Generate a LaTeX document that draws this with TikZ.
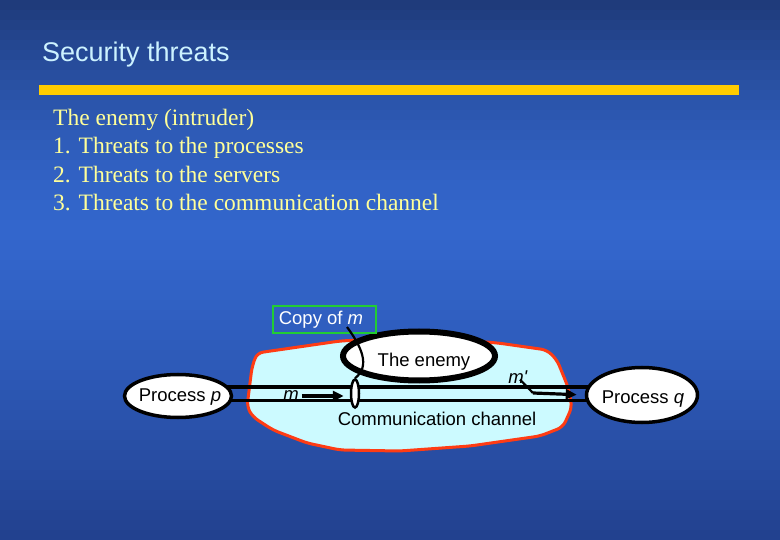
\documentclass[tikz,border=0pt]{standalone}
\usepackage{fontspec}
\setmainfont{Liberation Serif}
\newfontfamily\arialf{Liberation Sans}
\usetikzlibrary{shapes.geometric,arrows.meta}
\pgfdeclarelayer{bg}
\pgfdeclarelayer{mid}
\pgfsetlayers{bg,mid,main}
\definecolor{bgtop}{HTML}{1F3B7B}
\definecolor{bgmid}{HTML}{3366CC}
\definecolor{bgbot}{HTML}{213F8C}
\definecolor{titlec}{HTML}{CCF2FF}
\definecolor{bodyc}{HTML}{FFFF99}
\definecolor{barc}{HTML}{FFCC00}
\definecolor{cloudfill}{HTML}{CCFAFF}
\definecolor{cloudedge}{HTML}{FF3C14}
\definecolor{boxgreen}{HTML}{22CC33}
\tikzset{
  sans/.style={font=\arialf\fontsize{18.5}{20}\selectfont, inner sep=0pt},
  bodytext/.style={font=\fontsize{23.5}{26}\selectfont, text=bodyc, anchor=base west, inner sep=0pt},
  procshape/.style={ellipse, draw=black, fill=white, line width=3.5pt, inner sep=0pt},
  enemyshape/.style={ellipse, draw=black, fill=white, line width=6pt, inner sep=0pt, minimum width=152pt, minimum height=49pt},
  tapshape/.style={ellipse, draw=black, fill=white, line width=2.5pt, inner sep=0pt, minimum width=8pt, minimum height=28pt},
  copybox/.style={draw=boxgreen, line width=2.5pt, minimum width=103pt, minimum height=27pt, inner sep=0pt},
  chan/.style={draw=black, line width=3.5pt},
  arr/.style={draw=black, line width=3.2pt, -{Triangle[length=11pt,width=10pt]}},
  wire/.style={draw=black, line width=2.2pt},
}
\begin{document}
\begin{tikzpicture}[x=1pt,y=-1pt]
\useasboundingbox (0,0) rectangle (780,540);
\begin{pgfonlayer}{bg}
% vertical gradient: dark top, bright around y=230, darker bottom
\foreach \i in {0,...,53}{
  \pgfmathsetmacro{\yy}{\i*10}
  \ifnum\i<23
    \pgfmathtruncatemacro{\pa}{100*(1-\i/23)^1.6}
    \fill[bgtop!\pa!bgmid] (0,\yy) rectangle (780,\yy+10.5);
  \else
    \pgfmathtruncatemacro{\pb}{100*(max(0.001,(\i-23)/31))^1.3}
    \fill[bgbot!\pb!bgmid] (0,\yy) rectangle (780,\yy+10.5);
  \fi
}
\fill[cloudfill, draw=cloudedge, line width=3pt, rounded corners=6pt]
  (257,353) -- (340,341) -- (420,337) -- (498,343) -- (547,350) -- (557,360)
  -- (568,387) -- (572,407) -- (563,427) -- (540,436) -- (470,446) -- (400,451)
  -- (340,450) -- (307,443) -- (273,430) -- (253,417) -- (247,407) -- (252,367) -- cycle;
\end{pgfonlayer}

% title, bar, body text
\node[font=\arialf\fontsize{27}{30}\selectfont, text=titlec, anchor=base west, inner sep=0pt] (title) at (42,62) {Security threats};
\fill[barc] (39,85) rectangle (739,95);
\node[bodytext] (l0) at (53,126) {The enemy (intruder)};
\node[bodytext] (l1) at (53,154) {1. Threats to the processes};
\node[bodytext] (l2) at (53,182.5) {2. Threats to the servers};
\node[bodytext] (l3) at (53,210.5) {3. Threats to the communication channel};

% diagram nodes
\node[procshape, minimum width=107pt, minimum height=43pt] (p) at (178,396) {};
\node[sans] (ptext) at (180,397) {Process \textit{p}};
\node[procshape, minimum width=111pt, minimum height=55pt] (q) at (642,395) {};
\node[sans] (qtext) at (643,399) {Process \textit{q}};
\node[enemyshape] (en) at (419,356) {};
\node[sans] (entext) at (424,362) {The enemy};
\node[tapshape] (tap) at (355,393.5) {};
\node[copybox] (copy) at (324.5,319.5) {};
\node[sans, text=white] (copytext) at (321,320) {Copy of \textit{m}};
\node[sans] (cc) at (437,419) {Communication channel};
\node[sans] (mlab) at (291,396) {\textit{m}};
\node[sans] (mp) at (518,377) {\textit{m'}};
\coordinate (ytop) at (0,387);
\coordinate (ybot) at (0,400.5);
\coordinate (bend) at (533,393);

\begin{pgfonlayer}{mid}
\draw[chan] (p.center |- ytop) -- (q.center |- ytop);
\draw[chan] (p.center |- ybot) -- (q.center |- ybot);
\end{pgfonlayer}

% connectors
\draw[arr, shorten <=3pt, shorten >=6pt] (mlab.east) -- (tap.west |- mlab.east);
\draw[wire] ([xshift=2pt,yshift=4pt]mp.south) -- (bend);
\draw[arr, shorten >=8pt] (bend) -- (q.west);
\draw[wire] ([xshift=26pt,yshift=-7pt]copytext.center) .. controls (361,346) and (371,366) .. (tap.north);
\end{tikzpicture}
\end{document}
